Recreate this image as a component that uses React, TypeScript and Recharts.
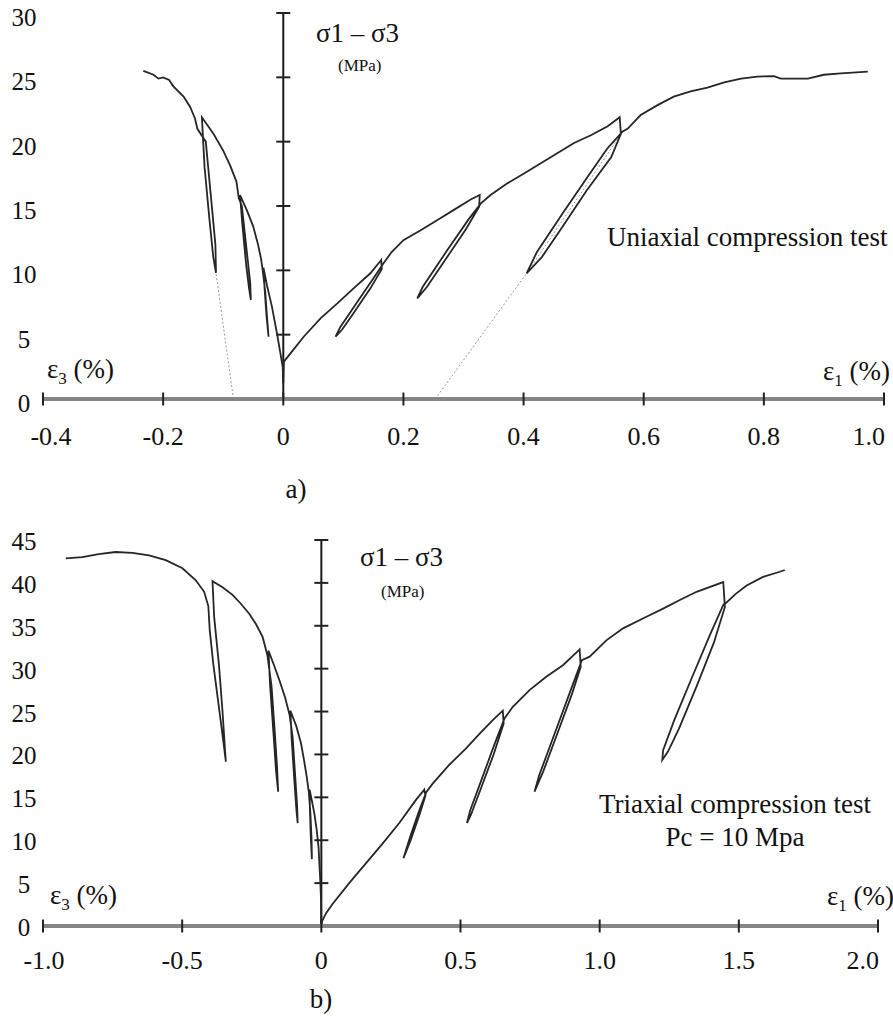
import { LineChart, Line, XAxis, YAxis, ReferenceLine, ReferenceDot } from 'recharts';

const FONT = '"Liberation Serif", "Times New Roman", serif';

// ---- a) uniaxial compression test ----
const aStrainTicks = [-0.4, -0.2, 0, 0.2, 0.4, 0.6, 0.8, 1.0];
const aStressTicks = [0, 5, 10, 15, 20, 25, 30];

// eps1 branch, in loading order (strain %, stress MPa)
const aAxial = [
  [0, 1.3], [0.001, 2.9], [0.012, 3.55], [0.034, 4.84], [0.062, 6.27], [0.09, 7.43], [0.117, 8.6], [0.145, 9.77],
  [0.163, 10.8], [0.164, 10.1], [0.145, 8.6], [0.116, 6.6], [0.098, 5.4], [0.087, 4.84],
  [0.095, 5.6], [0.124, 7.6], [0.149, 9.3], [0.166, 10.5],
  [0.18, 11.4], [0.2, 12.35], [0.228, 13.1], [0.256, 13.9], [0.284, 14.7], [0.312, 15.5],
  [0.327, 15.85], [0.326, 14.94], [0.304, 13.2], [0.268, 10.7], [0.239, 8.7], [0.223, 7.82],
  [0.232, 8.7], [0.272, 11.5], [0.309, 14.0], [0.329, 15.2],
  [0.345, 15.85], [0.373, 16.76], [0.4, 17.5], [0.428, 18.3], [0.456, 19.1], [0.484, 19.9], [0.512, 20.5], [0.54, 21.2],
  [0.56, 21.9], [0.562, 20.6], [0.546, 18.8], [0.505, 16.2], [0.462, 13.2], [0.43, 11.0], [0.405, 9.77],
  [0.422, 11.4], [0.466, 14.5], [0.507, 17.3], [0.54, 19.5], [0.565, 20.8],
  [0.573, 21.0], [0.595, 22.07], [0.623, 22.84], [0.65, 23.5], [0.678, 23.9], [0.706, 24.2], [0.734, 24.6],
  [0.762, 24.9], [0.789, 25.06], [0.817, 25.1], [0.828, 24.9], [0.873, 24.9], [0.9, 25.2], [0.928, 25.3], [0.973, 25.45],
];

// eps3 branch
const aLateral = [
  [0, 1.2], [-0.001, 2.5], [-0.005, 3.6], [-0.0105, 5.1], [-0.019, 7.2], [-0.027, 8.8],
  [-0.033, 10.2], [-0.031, 8.5], [-0.028, 6.5], [-0.0245, 4.84], [-0.027, 6.3], [-0.03, 8.3], [-0.034, 9.9],
  [-0.037, 10.9], [-0.042, 12.0], [-0.05, 13.4], [-0.06, 14.6],
  [-0.072, 15.85], [-0.068, 13.5], [-0.062, 10.5], [-0.057, 8.6], [-0.054, 7.7],
  [-0.055, 9.0], [-0.062, 12.0], [-0.069, 15.0], [-0.074, 15.6],
  [-0.078, 16.9], [-0.088, 18.1], [-0.1, 19.3], [-0.116, 20.6],
  [-0.1355, 21.9], [-0.131, 18.0], [-0.123, 14.0], [-0.1165, 11.0], [-0.112, 9.8],
  [-0.113, 12.0], [-0.121, 16.0], [-0.129, 20.0], [-0.143, 21.0],
  [-0.147, 21.8], [-0.155, 22.7], [-0.166, 23.5], [-0.183, 24.3], [-0.19, 24.8], [-0.2, 25.0],
  [-0.208, 24.9], [-0.216, 25.2], [-0.233, 25.5],
];

const aAxialSecant = [[0.253, 0], [0.405, 9.77], [0.558, 20.3]];
const aLateralSecant = [[-0.083, 0], [-0.112, 9.8]];

// ---- b) triaxial compression test, Pc = 10 MPa ----
const bStrainTicks = [-1.0, -0.5, 0, 0.5, 1.0, 1.5, 2.0];
const bStressTicks = [0, 5, 10, 15, 20, 25, 30, 35, 40, 45];

const bAxial = [
  [0, 0], [0.002, 0.5], [0.017, 1.5], [0.041, 2.6], [0.1, 5.0], [0.16, 7.3], [0.22, 9.6], [0.28, 12.0], [0.34, 14.7],
  [0.37, 15.9], [0.374, 15.2], [0.353, 13.0], [0.321, 10.0], [0.295, 7.9], [0.32, 10.5], [0.352, 13.5], [0.377, 15.6],
  [0.4, 16.6], [0.46, 18.8], [0.52, 20.7], [0.568, 22.4], [0.616, 24.0],
  [0.652, 25.1], [0.655, 23.6], [0.619, 20.0], [0.573, 16.0], [0.538, 13.0], [0.523, 12.0],
  [0.535, 13.5], [0.575, 17.0], [0.62, 21.0], [0.658, 24.2],
  [0.688, 25.55], [0.748, 27.5], [0.808, 29.05], [0.868, 30.4],
  [0.928, 32.25], [0.932, 30.2], [0.9, 27.0], [0.843, 22.0], [0.797, 18.0], [0.766, 15.65],
  [0.782, 17.5], [0.839, 22.5], [0.896, 27.5], [0.936, 31.0],
  [0.964, 31.4], [1.024, 33.3], [1.084, 34.7], [1.168, 36.05], [1.228, 37.0], [1.288, 38.0], [1.348, 38.96],
  [1.444, 40.1], [1.45, 37.2], [1.41, 33.0], [1.349, 28.0], [1.285, 23.0], [1.245, 20.3], [1.225, 19.35],
  [1.228, 20.5], [1.268, 24.0], [1.332, 29.0], [1.397, 34.0], [1.445, 37.5], [1.452, 37.6],
  [1.49, 38.75], [1.528, 39.7], [1.587, 40.7], [1.647, 41.3], [1.665, 41.5],
];

const bLateral = [
  [0, 0.3], [-0.001, 3.0], [-0.004, 5.4], [-0.01, 9.2], [-0.017, 11.3], [-0.025, 13.1], [-0.034, 14.6],
  [-0.042, 15.9], [-0.041, 13.5], [-0.038, 10.5], [-0.034, 7.8], [-0.035, 10.0], [-0.039, 13.0], [-0.045, 15.6],
  [-0.052, 17.3], [-0.062, 19.3], [-0.073, 21.3], [-0.09, 23.3],
  [-0.111, 25.1], [-0.107, 22.0], [-0.097, 17.0], [-0.0895, 13.5], [-0.085, 12.0],
  [-0.087, 14.0], [-0.095, 18.0], [-0.103, 22.0], [-0.114, 24.6],
  [-0.13, 26.6], [-0.15, 28.6], [-0.17, 30.4],
  [-0.19, 32.1], [-0.184, 28.0], [-0.171, 22.0], [-0.1625, 18.0], [-0.155, 15.65],
  [-0.159, 18.5], [-0.168, 23.0], [-0.179, 28.0], [-0.194, 31.6],
  [-0.211, 33.7], [-0.235, 35.2], [-0.259, 36.4], [-0.29, 37.6], [-0.319, 38.6], [-0.355, 39.5],
  [-0.391, 40.2], [-0.385, 36.0], [-0.368, 30.5], [-0.355, 25.0], [-0.346, 20.5], [-0.343, 19.15],
  [-0.352, 21.5], [-0.37, 26.0], [-0.388, 30.5], [-0.401, 34.5], [-0.406, 37.3],
  [-0.421, 38.96], [-0.451, 40.3], [-0.499, 41.7], [-0.559, 42.65], [-0.619, 43.2], [-0.679, 43.5],
  [-0.739, 43.6], [-0.8, 43.35], [-0.859, 43.0], [-0.918, 42.85],
];

const pts = (arr: number[][]) => arr.map(([x, y]) => ({ x, y }));
const fmtStrain = (v: number) => (v === 0 ? '0' : v.toFixed(1));

// first label may sit inside the axis start, last one ends at its tick
const StrainTick = ({ x, y, payload, index, dy, count, firstDx }: any) => {
  const last = index === count - 1;
  const first = index === 0;
  const anchor = last ? 'end' : 'middle';
  const tx = last ? x + 1 : first ? x + firstDx : x;
  return (
    <g>
      <line x1={x} x2={x} y1={y - 6.5} y2={y + 6.5} stroke="#222" strokeWidth={2} />
      <text x={tx} y={y + dy} textAnchor={anchor} fontSize={26} fontFamily={FONT} fill="#111">
        {fmtStrain(payload.value)}
      </text>
    </g>
  );
};

const StressTick = ({ x, y, payload, dy }: any) => (
  <text x={x - 19} y={y + dy} textAnchor="middle" fontSize={25} fontFamily={FONT} fill="#111">
    {payload.value}
  </text>
);

interface PanelProps {
  height: number;
  margin: { top: number; right: number; bottom: number; left: number };
  xDomain: [number, number];
  xTicks: number[];
  yTicks: number[];
  axial: number[][];
  lateral: number[][];
  secants: number[][][];
  xLabelDy: number;
  yLabelDy: number;
  firstDx: number;
}

const Panel = ({ height, margin, xDomain, xTicks, yTicks, axial, lateral, secants, xLabelDy, yLabelDy, firstDx }: PanelProps) => (
  <LineChart width={893} height={height} margin={margin}>
    <XAxis
      type="number"
      dataKey="x"
      domain={xDomain}
      allowDataOverflow
      ticks={xTicks}
      interval={0}
      height={30}
      tickSize={0}
      tickMargin={0}
      tickLine={false}
      axisLine={{ stroke: '#858585', strokeWidth: 4 }}
      tick={(p: any) => <StrainTick {...p} dy={xLabelDy} count={xTicks.length} firstDx={firstDx} />}
    />
    <YAxis
      type="number"
      domain={[0, yTicks[yTicks.length - 1]]}
      allowDataOverflow
      ticks={yTicks}
      interval={0}
      width={43}
      tickSize={0}
      tickMargin={0}
      tickLine={false}
      axisLine={false}
      tick={(p: any) => <StressTick {...p} dy={yLabelDy} />}
    />
    <ReferenceLine x={0} stroke="#1a1a1a" strokeWidth={2} />
    {yTicks.slice(1).map((v) => (
      <ReferenceDot
        key={v}
        x={0}
        y={v}
        r={0}
        shape={(p: any) => <line x1={p.cx - 7} x2={p.cx + 7} y1={p.cy} y2={p.cy} stroke="#222" strokeWidth={2} />}
      />
    ))}
    {secants.map((s, i) => (
      <Line
        key={`s${i}`}
        data={pts(s)}
        dataKey="y"
        type="linear"
        dot={false}
        stroke="#9a9a9a"
        strokeWidth={1}
        strokeDasharray="2 2"
        isAnimationActive={false}
      />
    ))}
    <Line data={pts(lateral)} dataKey="y" type="linear" dot={false} stroke="#262626" strokeWidth={1.8} isAnimationActive={false} />
    <Line data={pts(axial)} dataKey="y" type="linear" dot={false} stroke="#262626" strokeWidth={1.8} isAnimationActive={false} />
  </LineChart>
);

const Eps = ({ x, y, sub }: { x: number; y: number; sub: string }) => (
  <text x={x} y={y} fontSize={27} fontFamily={FONT} fill="#111">
    ε<tspan fontSize={17} dy={6}>{sub}</tspan>
    <tspan dy={-6}> (%)</tspan>
  </text>
);

export default function App() {
  return (
    <div style={{ position: 'absolute', left: 0, top: 0, width: 893, height: 1016, background: '#fff' }}>
      <div style={{ position: 'absolute', left: 0, top: 0 }}>
        <Panel
          height={470}
          margin={{ top: 13, right: 9, bottom: 41, left: 0 }}
          xDomain={[-0.4, 1.0]}
          xTicks={aStrainTicks}
          yTicks={aStressTicks}
          axial={aAxial}
          lateral={aLateral}
          secants={[aAxialSecant, aLateralSecant]}
          xLabelDy={46}
          yLabelDy={13}
          firstDx={8}
        />
      </div>
      <div style={{ position: 'absolute', left: 0, top: 500 }}>
        <Panel
          height={516}
          margin={{ top: 40, right: 15, bottom: 60, left: 0 }}
          xDomain={[-1.0, 2.0]}
          xTicks={bStrainTicks}
          yTicks={bStressTicks}
          axial={bAxial}
          lateral={bLateral}
          secants={[]}
          xLabelDy={43}
          yLabelDy={10}
          firstDx={1}
        />
      </div>
      <svg
        width={893}
        height={1016}
        style={{ position: 'absolute', left: 0, top: 0, pointerEvents: 'none' }}
      >
        <text x={316} y={42} fontSize={27} fontFamily={FONT} fill="#111">σ1 – σ3</text>
        <text x={338} y={71} fontSize={17} fontFamily={FONT} fill="#111">(MPa)</text>
        <Eps x={47} y={378} sub="3" />
        <Eps x={823} y={380} sub="1" />
        <text x={607} y={246} fontSize={27} fontFamily={FONT} fill="#111">Uniaxial compression test</text>
        <text x={296} y={498} fontSize={27} fontFamily={FONT} fill="#111" textAnchor="middle">a)</text>

        <text x={360} y={566} fontSize={27} fontFamily={FONT} fill="#111">σ1 – σ3</text>
        <text x={381} y={597} fontSize={17} fontFamily={FONT} fill="#111">(MPa)</text>
        <Eps x={50} y={904} sub="3" />
        <Eps x={827} y={905} sub="1" />
        <text x={735} y={813} fontSize={27} fontFamily={FONT} fill="#111" textAnchor="middle">Triaxial compression test</text>
        <text x={735} y={846} fontSize={27} fontFamily={FONT} fill="#111" textAnchor="middle">Pc = 10 Mpa</text>
        <text x={321} y={1008} fontSize={27} fontFamily={FONT} fill="#111" textAnchor="middle">b)</text>
      </svg>
    </div>
  );
}
